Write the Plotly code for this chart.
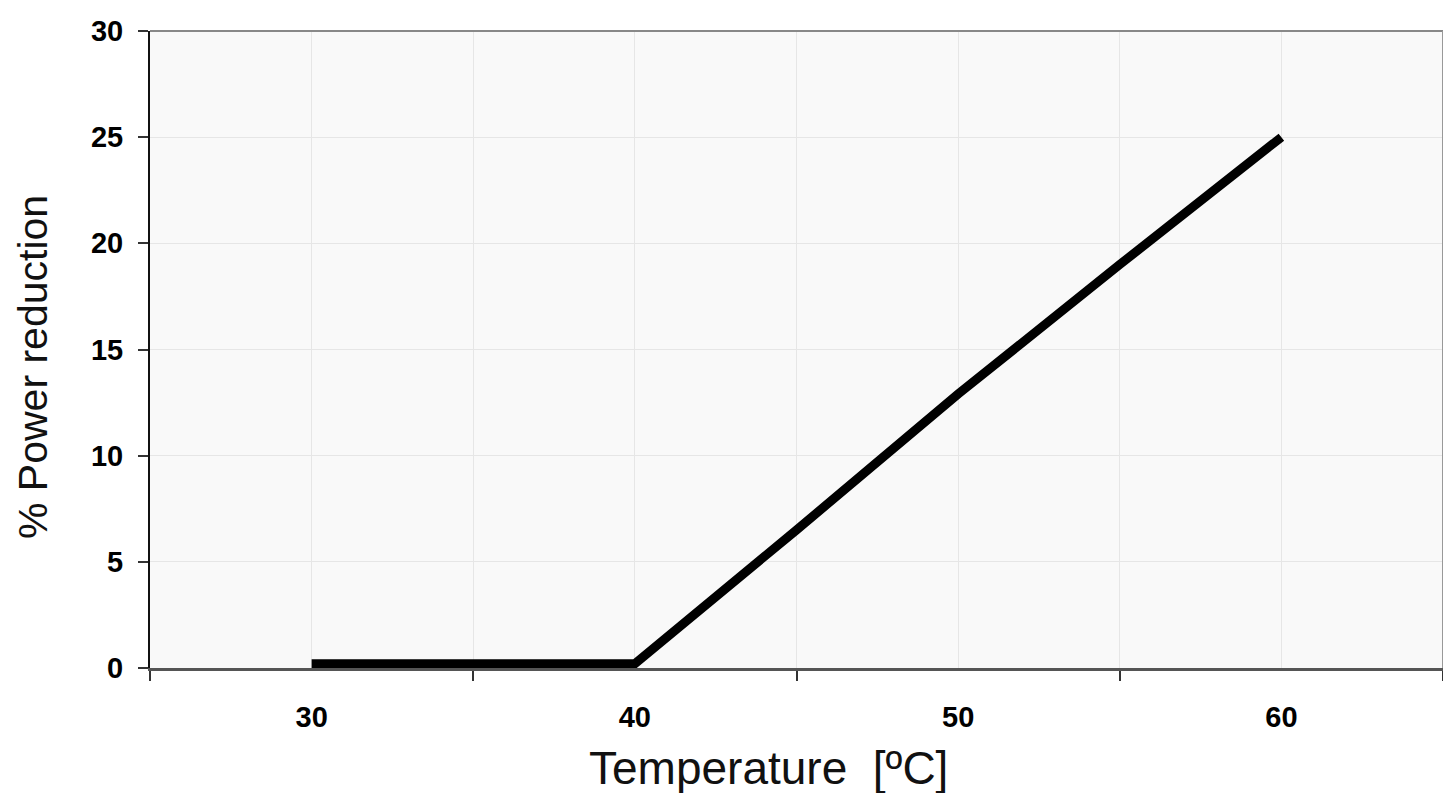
import plotly.graph_objects as go

temperature = [30, 40, 45, 50, 55, 60]
power_reduction = [0.2, 0.2, 6.5, 12.9, 19.0, 25.0]

x_label_vals = [30, 40, 50, 60]
x_tick_vals = [25, 35, 45, 55, 65]
y_tick_vals = [0, 5, 10, 15, 20, 25, 30]

FONT = "Liberation Sans, Arial, sans-serif"

fig = go.Figure()
fig.add_trace(go.Scatter(
    x=temperature, y=power_reduction, mode="lines",
    line=dict(color="black", width=9), showlegend=False,
))

fig.update_layout(
    width=1443, height=785,
    margin=dict(l=142, r=8, t=23, b=125, autoexpand=False),
    paper_bgcolor="white",
    plot_bgcolor="#f9f9f9",
    font=dict(family=FONT, color="black"),
    xaxis=dict(
        range=[25, 65], tickvals=x_label_vals, ticktext=[str(v) for v in x_label_vals],
        ticks="", showgrid=True, gridcolor="#e6e6e6", gridwidth=1,
        tickfont=dict(size=29, family=FONT, weight="bold"),
        ticklabelstandoff=21, automargin=False,
        minor=dict(tickvals=x_tick_vals, ticks="outside", ticklen=10, tickwidth=2,
                   tickcolor="#333", showgrid=True, gridcolor="#e6e6e6", gridwidth=1),
        showline=True, linecolor="#555", linewidth=3, zeroline=False,
    ),
    yaxis=dict(
        range=[0, 30], tickvals=y_tick_vals, ticks="outside", ticklen=10, tickwidth=2,
        tickcolor="#333", showgrid=True, gridcolor="#e6e6e6", gridwidth=1,
        tickfont=dict(size=29, family=FONT, weight="bold"),
        ticklabelstandoff=9, automargin=False,
        showline=True, linecolor="#111", linewidth=2, zeroline=False,
    ),
    annotations=[
        dict(text="Temperature  [ºC]", xref="paper", yref="paper", x=0.478, y=-0.157,
             xanchor="center", yanchor="middle", showarrow=False,
             font=dict(size=46, family=FONT, color="#111")),
        dict(text="% Power reduction", xref="paper", yref="paper", x=-0.0905, y=0.4725,
             xanchor="center", yanchor="middle", showarrow=False, textangle=-90,
             font=dict(size=41, family=FONT, color="#111")),
    ],
)

fig.add_shape(type="line", xref="paper", yref="paper", x0=0, x1=1, y0=1, y1=1,
              line=dict(color="#888", width=2))
fig.add_shape(type="line", xref="paper", yref="paper", x0=1, x1=1, y0=0, y1=1,
              line=dict(color="#999", width=2))

fig.write_html("out.html")
